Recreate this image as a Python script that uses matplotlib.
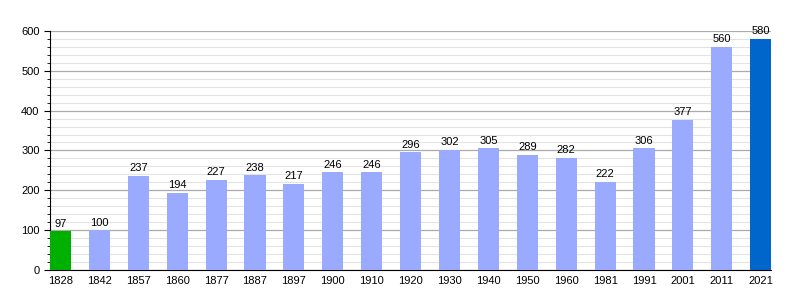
import matplotlib
matplotlib.use("Agg")
import matplotlib.pyplot as plt
from matplotlib.ticker import MultipleLocator

plt.rcParams["font.family"] = ["Liberation Sans", "DejaVu Sans"]

years = ["1828", "1842", "1857", "1860", "1877", "1887", "1897", "1900", "1910", "1920",
         "1930", "1940", "1950", "1960", "1981", "1991", "2001", "2011", "2021"]
population = [97, 100, 237, 194, 227, 238, 217, 246, 246, 296,
              302, 305, 289, 282, 222, 306, 377, 560, 580]

colors = ["#00b000"] + ["#99aaff"] * (len(years) - 2) + ["#0066cc"]

fig = plt.figure(figsize=(8, 3), dpi=100)
ax = fig.add_axes([0.0625, 0.1, 0.9015, 0.797])

x = range(len(years))
bars = ax.bar(x, population, width=0.54, color=colors, zorder=3)

for xi, v in zip(x, population):
    ax.text(xi, v + 6, str(v), ha="center", va="bottom", fontsize=8, zorder=4)

ax.set_xlim(-0.27, len(years) - 1 + 0.27)
ax.set_ylim(0, 600)
ax.set_xticks(list(x))
ax.set_xticklabels(years)
ax.yaxis.set_major_locator(MultipleLocator(100))
ax.yaxis.set_minor_locator(MultipleLocator(20))
ax.grid(axis="y", which="major", color="#aaaaaa", linewidth=0.9, zorder=0)
ax.grid(axis="y", which="minor", color="#e3e3e3", linewidth=0.8, zorder=0)

ax.spines["top"].set_visible(False)
ax.spines["right"].set_visible(False)
ax.tick_params(axis="x", length=0, labelsize=8, pad=4)
ax.tick_params(axis="y", which="major", length=4, labelsize=8)
ax.tick_params(axis="y", which="minor", length=2)

fig.savefig("out.png", dpi=100)
